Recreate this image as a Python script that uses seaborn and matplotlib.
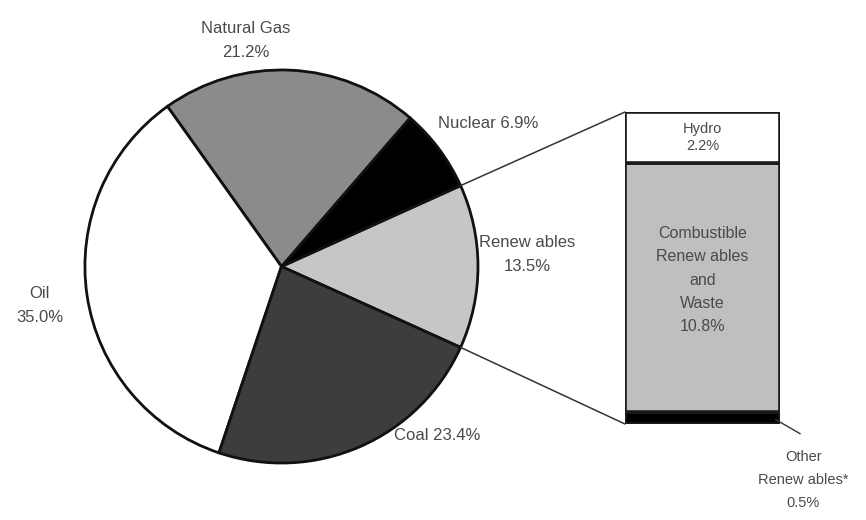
import matplotlib
matplotlib.use("Agg")
import matplotlib.pyplot as plt
from matplotlib.patches import ConnectionPatch
import seaborn as sns
import numpy as np

# World total primary energy supply shares (%)
sources = ["Renew ables", "Nuclear", "Natural Gas", "Oil", "Coal"]
shares = [13.5, 6.9, 21.2, 35.0, 23.4]
source_colors = ["#c6c6c6", "#000000", "#8b8b8b", "#ffffff", "#3d3d3d"]

# Breakdown of the renewables share (%), bottom to top
renew_parts = ["Other\nRenew ables*", "Combustible\nRenew ables\nand\nWaste", "Hydro"]
renew_values = [0.5, 10.8, 2.2]
renew_colors = ["#000000", "#bfbfbf", "#ffffff"]

sns.set_style("white")
plt.rcParams["font.family"] = ["Liberation Sans", "DejaVu Sans"]
TXT = "#4a4a4a"
FS = 12

fig = plt.figure(figsize=(8.66, 5.2), dpi=100)

# ---- pie ----
ax_pie = fig.add_axes([0.0935, 0.1020, 0.4630, 0.7710])
half_angle = shares[0] / 100 * 360 / 2
wedges, _ = ax_pie.pie(
    shares, colors=source_colors, startangle=-half_angle, counterclock=True,
    wedgeprops=dict(edgecolor="#111111", linewidth=2.0), radius=1.0,
)
ax_pie.set_xlim(-1.02, 1.02)
ax_pie.set_ylim(-1.02, 1.02)
ax_pie.set_aspect("equal")
ax_pie.axis("off")

# ---- stacked renewables bar ----
ax_bar = fig.add_axes([0.7217, 0.1846, 0.1790, 0.6000])
bottom = 0.0
for part, val, col in zip(renew_parts, renew_values, renew_colors):
    ax_bar.bar(0, val, width=1.0, bottom=bottom, color=col,
               edgecolor="#1a1a1a", linewidth=2.6)
    bottom += val
total_renew = sum(renew_values)
ax_bar.set_xlim(-0.5, 0.5)
ax_bar.set_ylim(0, total_renew)
ax_bar.axis("off")

# labels inside the bar
ax_bar.text(0, renew_values[0] + renew_values[1] + renew_values[2] / 2,
            f"{renew_parts[2]}\n{renew_values[2]:.1f}%", ha="center", va="center",
            fontsize=FS - 1.5, color=TXT, linespacing=1.35)
ax_bar.text(0, renew_values[0] + renew_values[1] * 0.53,
            f"{renew_parts[1]}\n{renew_values[1]:.1f}%", ha="center", va="center",
            fontsize=FS - 0.5, color=TXT, linespacing=1.7)

# label below the bar with a short leader line to the thin black segment
ax_bar.plot([0.47, 0.63], [renew_values[0] * 0.4, -0.42], color="#333333",
            lw=1.0, clip_on=False)
ax_bar.text(0.65, -2.42, f"{renew_parts[0]}\n{renew_values[0]:.1f}%",
            ha="center", va="center", fontsize=FS - 1.5, color=TXT,
            linespacing=1.85, clip_on=False)

# ---- connector lines from renewables wedge to the bar ----
theta = np.deg2rad(half_angle)
for sign, ybar in [(1, total_renew), (-1, 0.0)]:
    con = ConnectionPatch(xyA=(np.cos(theta), sign * np.sin(theta)), coordsA=ax_pie.transData,
                          xyB=(-0.5, ybar), coordsB=ax_bar.transData,
                          color="#333333", lw=1.1)
    fig.add_artist(con)

# ---- pie labels ----
def lbl(x, y, s, **kw):
    ax_pie.text(x, y, s, ha="center", va="center", fontsize=FS, color=TXT,
                linespacing=1.75, **kw)

lbl(-0.18, 1.15, f"Natural Gas\n{shares[2]:.1f}%")
lbl(1.05, 0.73, f"Nuclear {shares[1]:.1f}%")
lbl(1.25, 0.06, f"Renew ables\n{shares[0]:.1f}%")
lbl(-1.23, -0.2, f"Oil\n{shares[3]:.1f}%")
lbl(0.79, -0.86, f"Coal {shares[4]:.1f}%")

fig.savefig("out.png", dpi=100, facecolor="white")
